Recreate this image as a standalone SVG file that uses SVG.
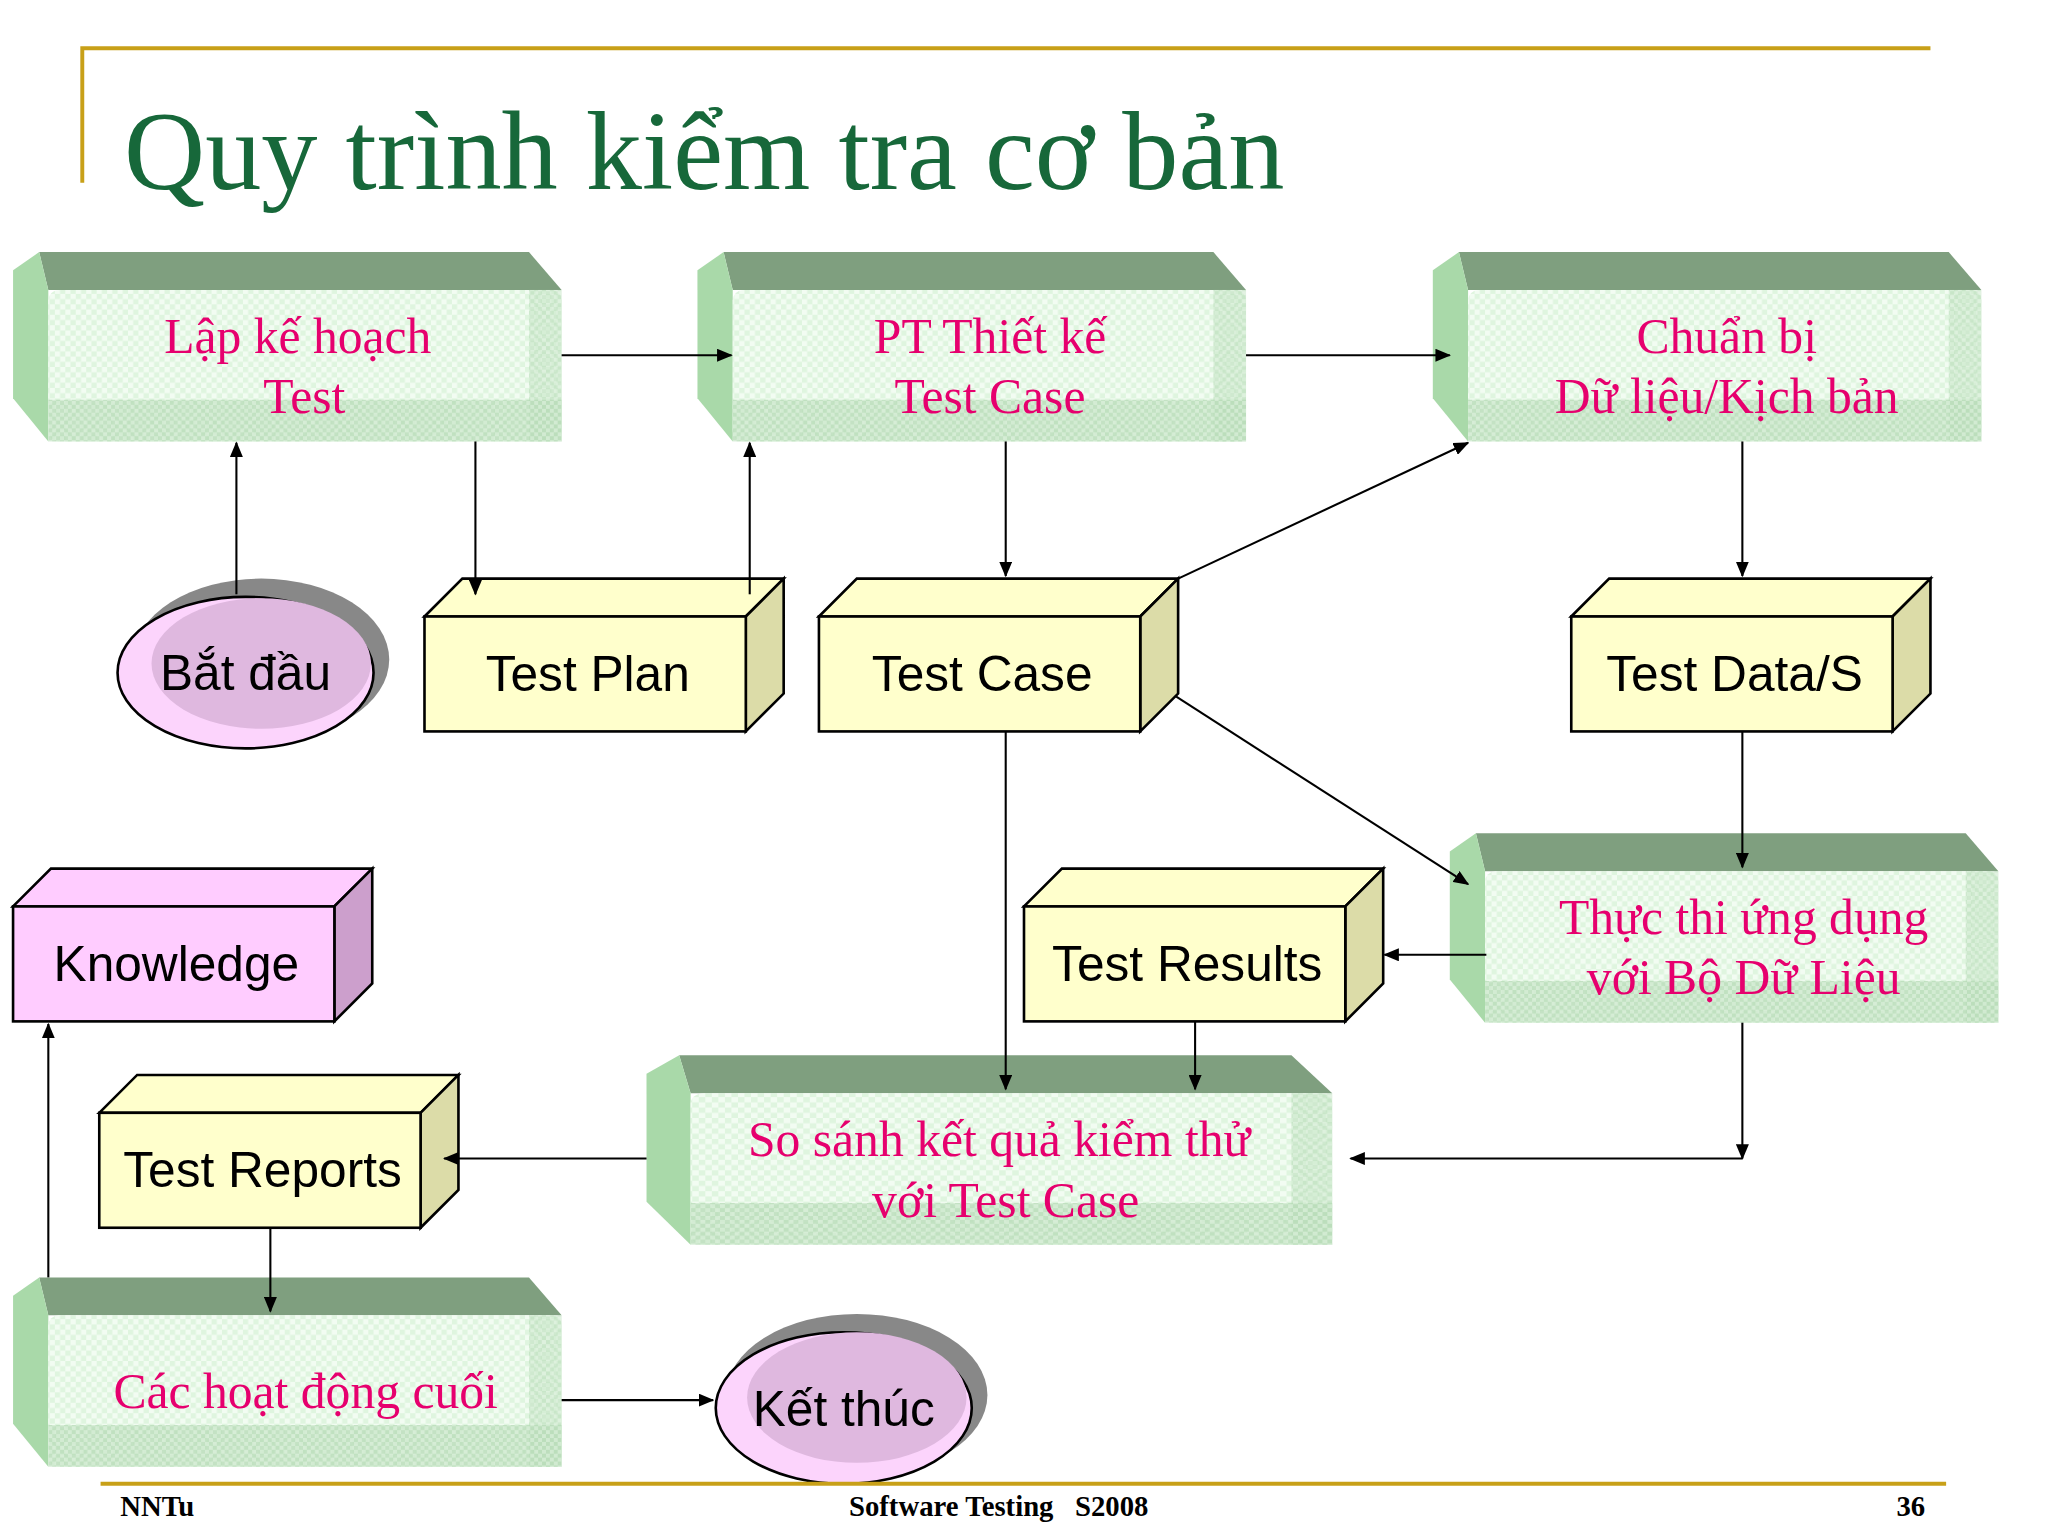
<svg xmlns="http://www.w3.org/2000/svg" width="2048" height="1534" viewBox="0 0 2048 1534">
<style>
.st{font-family:"Liberation Serif","DejaVu Serif",serif;font-size:38px;fill:#e6006e;text-anchor:middle}
.bt{font-family:"Liberation Sans",Arial,sans-serif;font-size:38px;fill:#000;text-anchor:middle}
.ft{font-family:"Liberation Serif",serif;font-size:22px;font-weight:bold;fill:#000}
.c{stroke:#000;stroke-width:1.6;fill:none;marker-end:url(#ah)}
.yf{fill:#ffffcc;stroke:#000;stroke-width:2}
.ys{fill:#dcdca8;stroke:#000;stroke-width:2}
</style>
<defs>
<marker id="ah" markerWidth="12" markerHeight="10" refX="11" refY="5" orient="auto" markerUnits="userSpaceOnUse"><path d="M0,0 L12,5 L0,10 Z" fill="#000"/></marker>
<pattern id="chk" width="8" height="8" patternUnits="userSpaceOnUse"><rect width="8" height="8" fill="#f2fcf2"/><rect width="4" height="4" fill="#dff5df"/><rect x="4" y="4" width="4" height="4" fill="#dff5df"/></pattern>
<pattern id="chk2" width="6" height="6" patternUnits="userSpaceOnUse"><rect width="6" height="6" fill="#cfe9cf"/><rect width="3" height="3" fill="#b8dcb8"/><rect x="3" y="3" width="3" height="3" fill="#b8dcb8"/></pattern>
<g id="bev">
<path d="M20,0 L395,0 L420,29 L27,29 Z" fill="#7f9f7f"/>
<path d="M20,0 L27,29 L27,145 L0,112 L0,14 Z" fill="#a9d9a9"/>
<rect x="27" y="29" width="393" height="116" rx="8" fill="url(#chk)"/>
<rect x="27" y="113" width="393" height="32" fill="url(#chk2)" opacity="0.8"/>
<rect x="395" y="29" width="25" height="116" fill="url(#chk2)" opacity="0.6"/>
</g>
</defs>
<rect width="2048" height="1534" fill="#fff"/>
<g transform="scale(1.30612)">
<g id="header">
<path d="M63,140 L63,37 L1478,37" stroke="#c8a018" stroke-width="3" fill="none"/>
<text x="95" y="145" font-family="Liberation Serif,DejaVu Serif,serif" font-size="86" fill="#17683a">Quy trình kiểm tra cơ bản</text>
</g>
<g id="n1"><use href="#bev" x="10" y="193"/><text class="st" x="228" y="270">Lập kế hoạch</text><text class="st" x="233" y="316">Test</text></g>
<g id="n2"><use href="#bev" x="534" y="193"/><text class="st" x="758" y="270">PT Thiết kế</text><text class="st" x="758" y="316">Test Case</text></g>
<g id="n3"><use href="#bev" x="1097" y="193"/><text class="st" x="1322" y="270">Chuẩn bị</text><text class="st" x="1322" y="316">Dữ liệu/Kịch bản</text></g>
<g id="n4"><use href="#bev" x="1110" y="638"/><text class="st" x="1335" y="715">Thực thi ứng dụng</text><text class="st" x="1335" y="761">với Bộ Dữ Liệu</text></g>
<g id="n5"><use href="#bev" x="495" y="808" transform="translate(495,808) scale(1.25,1) translate(-495,-808)"/><text class="st" x="765" y="885">So sánh kết quả kiểm thử</text><text class="st" x="770" y="932">với Test Case</text></g>
<g id="n6"><use href="#bev" x="10" y="978"/><text class="st" x="234" y="1078">Các hoạt động cuối</text></g>
<g id="tp"><path class="yf" d="M325,472 L354,443 L600,443 L571,472 Z"/><path class="ys" d="M571,472 L600,443 L600,531 L571,560 Z"/><rect class="yf" x="325" y="472" width="246" height="88"/><text class="bt" x="450" y="529">Test Plan</text></g>
<g id="tc"><path class="yf" d="M627,472 L656,443 L902,443 L873,472 Z"/><path class="ys" d="M873,472 L902,443 L902,531 L873,560 Z"/><rect class="yf" x="627" y="472" width="246" height="88"/><text class="bt" x="752" y="529">Test Case</text></g>
<g id="td"><path class="yf" d="M1203,472 L1232,443 L1478,443 L1449,472 Z"/><path class="ys" d="M1449,472 L1478,443 L1478,531 L1449,560 Z"/><rect class="yf" x="1203" y="472" width="246" height="88"/><text class="bt" x="1328" y="529">Test Data/S</text></g>
<g id="tr"><path class="yf" d="M784,694 L813,665 L1059,665 L1030,694 Z"/><path class="ys" d="M1030,694 L1059,665 L1059,753 L1030,782 Z"/><rect class="yf" x="784" y="694" width="246" height="88"/><text class="bt" x="909" y="751">Test Results</text></g>
<g id="trep"><path class="yf" d="M76,852 L105,823 L351,823 L322,852 Z"/><path class="ys" d="M322,852 L351,823 L351,911 L322,940 Z"/><rect class="yf" x="76" y="852" width="246" height="88"/><text class="bt" x="201" y="909">Test Reports</text></g>
<g id="kn"><path d="M10,694 L39,665 L285,665 L256,694 Z" fill="#ffccff" stroke="#000" stroke-width="2"/><path d="M256,694 L285,665 L285,753 L256,782 Z" fill="#cc9fcc" stroke="#000" stroke-width="2"/><rect x="10" y="694" width="246" height="88" fill="#ffccff" stroke="#000" stroke-width="2"/><text class="bt" x="135" y="751">Knowledge</text></g>
<g id="start"><ellipse cx="200" cy="505" rx="98" ry="62" fill="#888"/><ellipse cx="188" cy="515" rx="98" ry="58" fill="#fcd4fc" stroke="#000" stroke-width="2"/><ellipse cx="200" cy="508" rx="84" ry="50" fill="#dfb8df"/><text class="bt" x="188" y="528">Bắt đầu</text></g>
<g id="end"><ellipse cx="656" cy="1068" rx="100" ry="62" fill="#888"/><ellipse cx="646" cy="1078" rx="98" ry="58" fill="#fcd4fc" stroke="#000" stroke-width="2"/><ellipse cx="656" cy="1070" rx="84" ry="50" fill="#dfb8df"/><text class="bt" x="646" y="1092">Kết thúc</text></g>
<g id="connectors">
<path class="c" d="M430,272 L560,272"/>
<path class="c" d="M954,272 L1110,272"/>
<path class="c" d="M181,455 L181,339"/>
<path class="c" d="M364,338 L364,455"/>
<path class="c" d="M574,455 L574,339"/>
<path class="c" d="M770,338 L770,441"/>
<path class="c" d="M902,443 L1124,339"/>
<path class="c" d="M1334,338 L1334,441"/>
<path class="c" d="M900,533 L1124,677"/>
<path class="c" d="M1334,560 L1334,664"/>
<path class="c" d="M1138,731 L1060,731"/>
<path class="c" d="M770,560 L770,834"/>
<path class="c" d="M915,782 L915,834"/>
<path class="c" d="M1334,783 L1334,887"/>
<path class="c" d="M1334,887 L1034,887"/>
<path class="c" d="M495,887 L340,887"/>
<path class="c" d="M207,940 L207,1004"/>
<path class="c" d="M37,978 L37,784"/>
<path class="c" d="M430,1072 L546,1072"/>
</g>
<g id="footer">
<line x1="77" y1="1136" x2="1490" y2="1136" stroke="#c8a018" stroke-width="3"/>
<text class="ft" x="92" y="1161">NNTu</text>
<text class="ft" x="650" y="1161" xml:space="preserve">Software Testing   S2008</text>
<text class="ft" x="1452" y="1161">36</text>
</g>
</g>
</svg>
